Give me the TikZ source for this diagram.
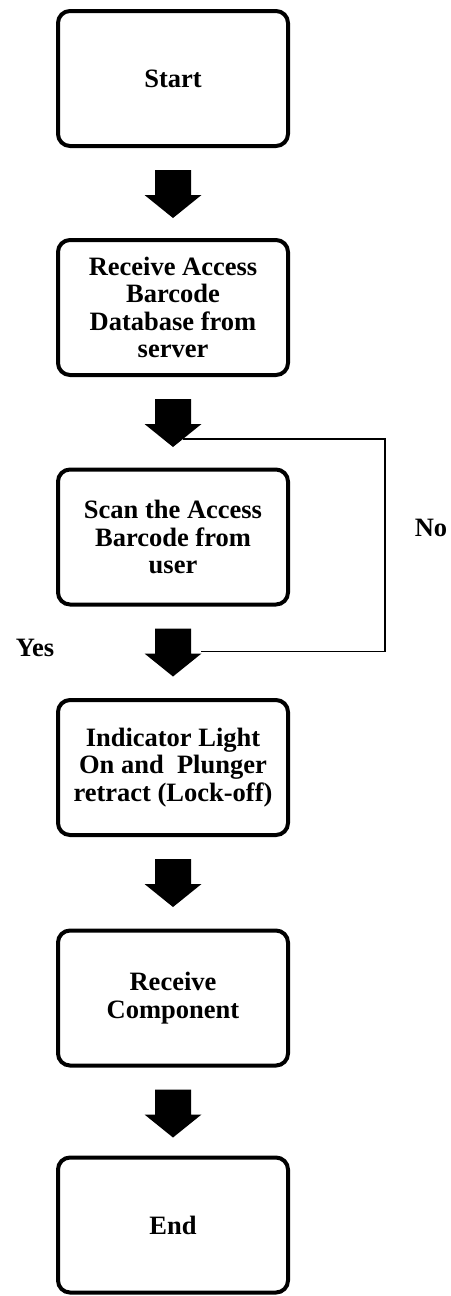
\documentclass[tikz,border=0pt]{standalone}
\usepackage{fontspec}
\setmainfont{Liberation Serif}
\usetikzlibrary{calc}
\tikzset{
  box/.style={draw=black, line width=4pt, rounded corners=12pt, minimum width=230pt, minimum height=135pt,
    align=center, font=\bfseries\fontsize{26.5}{27.5}\selectfont, inner sep=2pt},
  lbl/.style={font=\bfseries\fontsize{26.5}{27.5}\selectfont, inner sep=0pt},
  loopline/.style={draw=black, line width=1.6pt},
}
\newcommand\blkarrow[1]{%
  \fill[black] ($(#1.south)+(-18,22)$) -- ($(#1.south)+(18,22)$) -- ($(#1.south)+(18,47)$)
    -- ($(#1.south)+(28.5,47)$) -- ($(#1.south)+(0,70)$) -- ($(#1.south)+(-28.5,47)$)
    -- ($(#1.south)+(-18,47)$) -- cycle;}
\begin{document}
\begin{tikzpicture}[x=1pt,y=-1pt]
\useasboundingbox (0,0) rectangle (450,1296);
\node[box] (b1) at (173,78.5) {Start};
\node[box] (b2) at (173,307.5) {Receive Access\\Barcode\\Database from\\server};
\node[box] (b3) at (173,537) {Scan the Access\\Barcode from\\user};
\node[box] (b4) at (173,767.5) {Indicator Light\\On and\ \ Plunger\\retract (Lock-off)};
\node[box] (b5) at (173,998) {Receive\\Component};
\node[box] (b6) at (173,1225) {End};
\blkarrow{b1}
\blkarrow{b2}
\blkarrow{b3}
\blkarrow{b4}
\blkarrow{b5}
\coordinate (ls) at ($(b2.south)+(10,62)$);
\coordinate (lr) at ($(b3.east)+(95,0)$);
\coordinate (le) at ($(b3.south)+(28,45)$);
\draw[loopline] (ls) -- (ls -| lr) -- (le -| lr) -- (le);
\node[lbl] (no) at (431,528) {No};
\node[lbl] (yes) at (35,648) {Yes};
\end{tikzpicture}
\end{document}
